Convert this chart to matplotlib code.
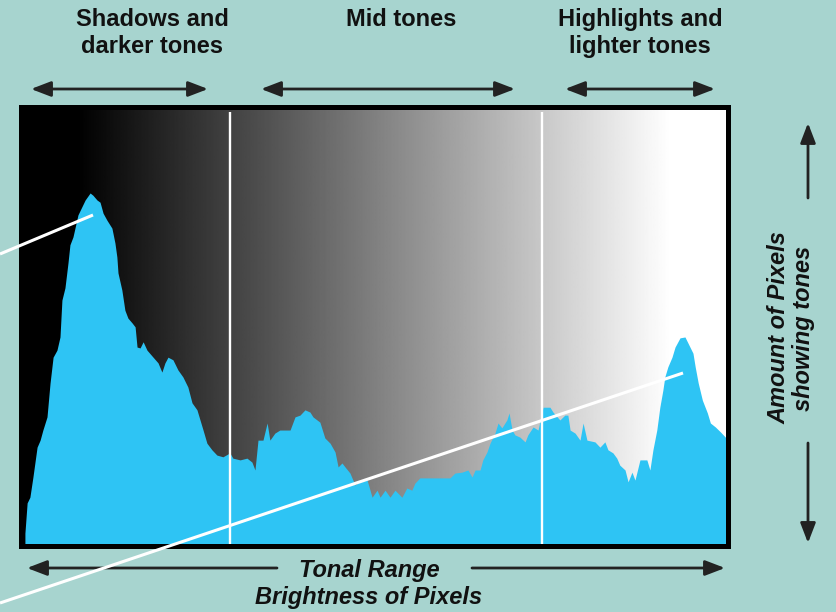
"""
Tonal-range histogram diagram: shadows / mid tones / highlights.
"""

import numpy as np
import matplotlib
matplotlib.use("Agg")
import matplotlib.pyplot as plt
from matplotlib.patches import FancyArrowPatch
from matplotlib.lines import Line2D

# ── Data ──────────────────────────────────────────────────────────────────────
# brightness level (0-255) and pixel count (% of plot height)
levels = [1.6, 2.4, 3.4, 4.5, 6.0, 7.1, 8.1, 9.6, 10.7, 11.8, 13.2, 14.3, 15.0,
          16.1, 17.2, 17.9, 19.0, 20.8, 23.4, 25.2, 26.2, 27.7, 28.8, 29.9,
          31.3, 33.1, 34.2, 34.9, 35.3, 36.7, 37.8, 38.9, 40.4, 41.5, 42.2,
          43.3, 44.4, 45.8, 48.0, 49.8, 51.2, 52.3, 53.4, 55.2, 57.0, 58.8,
          60.6, 62.1, 63.9, 65.0, 66.1, 67.5, 69.3, 71.1, 73.3, 75.8, 76.9,
          79.5, 82.0, 83.8, 84.9, 86.0, 87.8, 89.3, 90.3, 92.1, 93.9, 97.6,
          99.4, 101.2, 103.0, 104.8, 105.9, 108.4, 110.2, 112.1, 113.9, 115.0,
          116.4, 117.5, 119.3, 121.1, 122.9, 125.5, 127.3, 129.1, 130.2, 132.0,
          133.8, 135.6, 138.1, 139.9, 141.7, 142.8, 144.6, 155.5, 157.3, 159.8,
          162.0, 163.5, 164.6, 166.4, 167.4, 168.9, 170.0, 171.8, 172.9, 174.3,
          176.1, 176.9, 178.0, 179.0, 180.8, 182.7, 183.7, 185.6, 187.4, 189.2,
          191.7, 192.8, 195.3, 197.1, 198.2, 199.0, 200.8, 202.6, 203.7, 205.1,
          208.0, 209.8, 211.6, 212.7, 214.5, 215.9, 217.0, 218.9, 220.0, 221.4,
          222.5, 224.3, 226.8, 227.9, 229.0, 230.4, 231.5, 232.6, 233.3, 234.4,
          235.9, 237.0, 238.8, 240.6, 241.7, 243.5, 244.3, 245.4, 246.9, 248.7,
          249.8, 251.6, 253.4, 255.5]
counts = [2.8, 9.7, 11.0, 15.6, 22.4, 24.0, 26.3, 29.3, 37.0, 42.9, 44.5, 47.5,
          55.9, 58.7, 64.4, 68.5, 70.3, 75.3, 78.7, 80.3, 79.8, 78.7, 78.2,
          75.7, 74.1, 72.3, 68.9, 65.7, 62.1, 58.2, 53.6, 51.8, 50.7, 49.8,
          45.2, 45.0, 46.4, 44.5, 42.9, 41.6, 39.5, 41.6, 42.9, 42.3, 40.0,
          38.4, 36.1, 32.5, 30.9, 28.6, 26.3, 23.3, 21.8, 20.6, 20.2, 21.1,
          19.9, 19.5, 19.9, 19.0, 17.2, 24.0, 24.0, 27.9, 24.0, 25.6, 26.3,
          26.3, 29.3, 29.7, 30.9, 30.4, 29.3, 28.1, 24.5, 23.3, 21.3, 17.9,
          18.8, 17.9, 16.5, 13.8, 14.5, 14.9, 11.0, 12.6, 11.0, 12.6, 11.0,
          12.6, 11.0, 13.1, 12.6, 14.2, 15.4, 15.4, 16.5, 16.7, 17.2, 15.6,
          17.2, 17.2, 19.5, 21.3, 23.3, 25.6, 27.9, 26.8, 28.6, 30.2, 26.3,
          25.2, 24.7, 23.6, 25.2, 27.0, 26.3, 31.5, 31.5, 30.4, 28.6, 29.7,
          29.7, 26.3, 25.6, 24.0, 27.9, 24.0, 23.6, 22.4, 23.6, 21.8, 21.1,
          19.9, 18.3, 17.2, 14.5, 16.7, 14.9, 19.5, 19.5, 17.2, 21.8, 26.3,
          31.5, 35.4, 38.4, 40.7, 42.9, 45.2, 47.3, 47.5, 46.1, 43.8, 40.7,
          37.0, 33.1, 30.2, 27.9, 27.0, 25.9, 24.5]

zone_edges = [76, 189]                       # shadows | mid | highlights
zone_labels = ["Shadows and\ndarker tones", "Mid tones",
               "Highlights and\nlighter tones"]
x_label = "Tonal Range\nBrightness of Pixels"
y_label = "Amount of Pixels\nshowing tones"

# ── Style ─────────────────────────────────────────────────────────────────────
W, H = 836, 612
BG = "#a7d4cf"
BLUE = "#2ec4f4"
INK = "#111111"
FONT = ["Liberation Sans", "DejaVu Sans"]


def px(x, y):
    """figure pixel (from top-left) -> figure fraction"""
    return x / W, 1 - y / H


fig = plt.figure(figsize=(W / 100, H / 100), dpi=100, facecolor=BG)
ax = fig.add_axes([20.5 / W, 1 - 545.5 / H, 707 / W, 439 / H])

# ── Histogram over a black->white ramp ───────────────────────────────────────
ramp = np.clip((np.linspace(0, 256, 512) - 20) / 215, 0, 1)
ax.imshow(ramp[None, :], extent=[0, 256, 0, 100], aspect="auto", cmap="gray",
          vmin=0, vmax=1, interpolation="bilinear", zorder=0)
ax.fill_between(levels, counts, 0, color=BLUE, lw=0, zorder=1)
ax.vlines(zone_edges, 0, 98.7, color="white", lw=1.7, zorder=2)

ax.set_xlim(0, 256)
ax.set_ylim(0, 100)
ax.set_xticks([])
ax.set_yticks([])
for s in ax.spines.values():
    s.set_linewidth(3.6)
    s.set_color("black")
    s.set_zorder(5)

# ── Pointer lines (white) ─────────────────────────────────────────────────────
for (x0, y0), (x1, y1) in [((0, 254), (93, 215)), ((0, 603), (683, 373))]:
    fig.add_artist(Line2D([px(x0, y0)[0], px(x1, y1)[0]],
                          [px(x0, y0)[1], px(x1, y1)[1]],
                          transform=fig.transFigure, color="white", lw=2.2,
                          solid_capstyle="butt", zorder=10))


# ── Arrows ────────────────────────────────────────────────────────────────────
def arrow(p0, p1, style):
    fig.add_artist(FancyArrowPatch(px(*p0), px(*p1), transform=fig.transFigure,
                                   arrowstyle=f"{style},head_length=12,head_width=4.6",
                                   mutation_scale=1, lw=2.0, color="#222222",
                                   shrinkA=0, shrinkB=0, zorder=8))


arrow((31, 89), (208, 89), "<|-|>")
arrow((261, 89), (515, 89), "<|-|>")
arrow((565, 89), (715, 89), "<|-|>")
arrow((277, 568), (27, 568), "-|>")
arrow((472, 568), (725, 568), "-|>")
arrow((808, 198), (808, 123), "-|>")
arrow((808, 443), (808, 543), "-|>")

# ── Text ──────────────────────────────────────────────────────────────────────
for (x, y), lab in zip([(152, 33), (401, 20), (640, 33)], zone_labels):
    fig.text(*px(x, y), lab, ha="center", va="center", fontsize=17,
             fontweight="bold", color=INK, family=FONT, linespacing=1.2)

fig.text(*px(369, 584), x_label, ha="center", va="center", fontsize=17,
         fontweight="bold", style="italic", color=INK, family=FONT,
         linespacing=1.25)
fig.text(*px(791, 328), y_label, ha="center", va="center", rotation=90,
         fontsize=17, fontweight="bold", style="italic", color=INK,
         family=FONT, linespacing=1.1)

fig.savefig("out.png", dpi=100, facecolor=BG)
